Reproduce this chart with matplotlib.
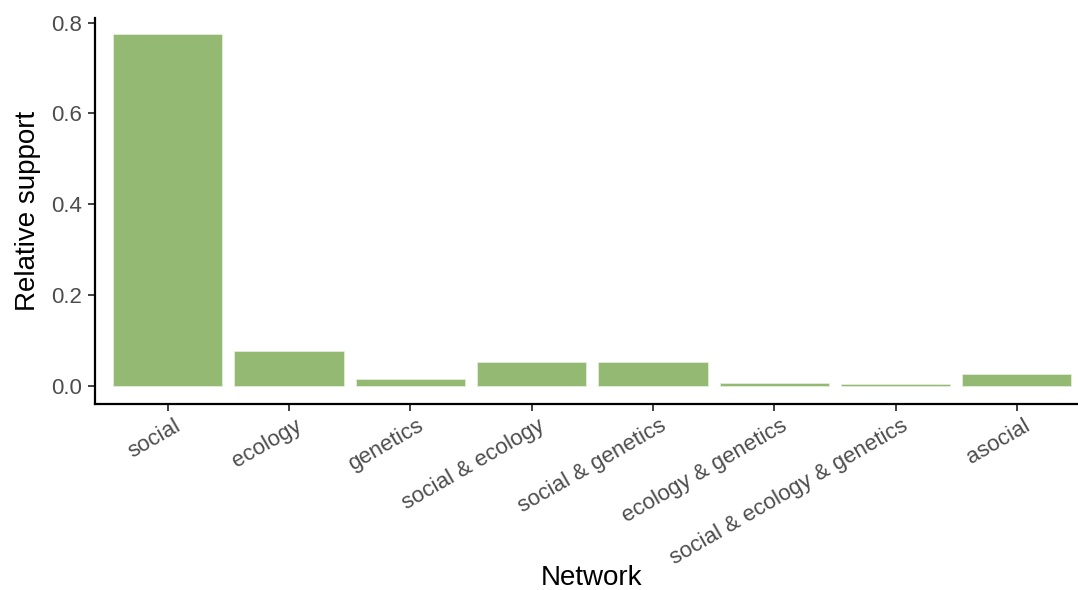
import matplotlib
matplotlib.use("Agg")
import matplotlib.pyplot as plt
import matplotlib.transforms as mtransforms
import numpy as np

networks = ["social", "ecology", "genetics", "social & ecology", "social & genetics",
            "ecology & genetics", "social & ecology & genetics", "asocial"]
support = [0.775, 0.077, 0.016, 0.053, 0.053, 0.006, 0.004, 0.026]
yticks = [0.0, 0.2, 0.4, 0.6, 0.8]

plt.rcParams["font.family"] = ["Liberation Sans", "DejaVu Sans"]

fig = plt.figure(figsize=(10.78, 5.90), dpi=100)
ax = fig.add_axes([95 / 1078, (590 - 404) / 590, 1 - 95 / 1078, (404 - 18) / 590])

x = np.arange(1, len(networks) + 1)
ax.bar(x, support, width=0.9, color="#94b973", edgecolor="#e4eddb", linewidth=0.6)

ax.set_xlim(0.4, 0.4 + 983 / 121.3)
ax.set_ylim(-0.0396, 0.81)
ax.set_yticks(yticks)
ax.set_yticklabels([f"{v:.1f}" for v in yticks])
ax.set_xticks(x)
ax.set_xticklabels(networks, rotation=30, ha="right", va="top", rotation_mode="anchor")

for side in ("top", "right"):
    ax.spines[side].set_visible(False)
for side in ("left", "bottom"):
    ax.spines[side].set_linewidth(1.6)
    ax.spines[side].set_color("black")

ax.tick_params(axis="both", length=5, width=1.3, color="#333333",
               labelsize=16, labelcolor="#4d4d4d")
ax.tick_params(axis="y", pad=4)
ax.tick_params(axis="x", pad=3)

offset = mtransforms.ScaledTranslation(6 / 100, 0, fig.dpi_scale_trans)
for lbl in ax.get_xticklabels():
    lbl.set_transform(lbl.get_transform() + offset)

ax.set_xlabel("Network", fontsize=20, color="black", va="center")
ax.xaxis.set_label_coords(0.5056, -0.451)
ax.set_ylabel("Relative support", fontsize=20, color="black", labelpad=8)

fig.savefig("out.png", dpi=100)
